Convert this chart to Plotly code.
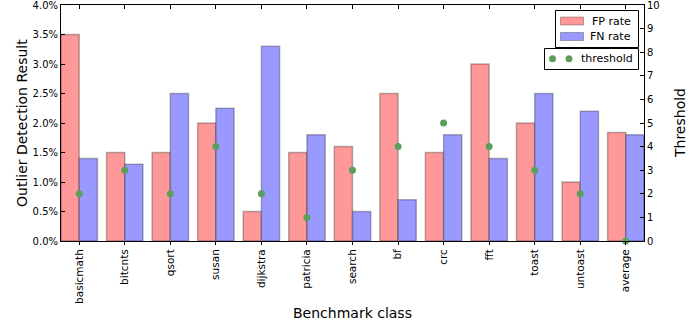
import plotly.graph_objects as go

categories = ["basicmath", "bitcnts", "qsort", "susan", "dijkstra", "patricia",
              "search", "bf", "crc", "fft", "toast", "untoast", "average"]
fp_rate = [0.035, 0.015, 0.015, 0.020, 0.005, 0.015, 0.016, 0.025, 0.015, 0.030, 0.020, 0.010, 0.0184]
fn_rate = [0.014, 0.013, 0.025, 0.0225, 0.033, 0.018, 0.005, 0.007, 0.018, 0.014, 0.025, 0.022, 0.018]
threshold = [2, 3, 2, 4, 2, 1, 3, 4, 5, 4, 3, 2, 0]
pct_ticks = [0, 0.005, 0.01, 0.015, 0.02, 0.025, 0.03, 0.035, 0.04]
pct_labels = ["0.0%", "0.5%", "1.0%", "1.5%", "2.0%", "2.5%", "3.0%", "3.5%", "4.0%"]
thr_ticks = list(range(11))

FP_COLOR = "#ff9999"
FN_COLOR = "#9999ff"
THR_COLOR = "#5c9f5c"
EDGE = "rgba(0,0,0,0.28)"

W, H = 699, 325
ML, MR, MT, MB = 61, 55, 5, 84
PW, PH = W - ML - MR, H - MT - MB


def px(x):
    return (x - ML) / PW


def py(y):
    return (H - MB - y) / PH


xi = list(range(len(categories)))
font = "DejaVu Sans, sans-serif"
edge = dict(color=EDGE, width=1.5)

fig = go.Figure()
fig.add_trace(go.Bar(x=xi, y=fp_rate, name="FP rate", width=0.4, offset=-0.4,
                     marker=dict(color=FP_COLOR, line=edge)))
fig.add_trace(go.Bar(x=xi, y=fn_rate, name="FN rate", width=0.4, offset=0.0,
                     marker=dict(color=FN_COLOR, line=edge)))
fig.add_trace(go.Scatter(x=xi, y=threshold, name="threshold", mode="markers",
                         marker=dict(color=THR_COLOR, size=7), yaxis="y2",
                         cliponaxis=False))
fig.add_trace(go.Scatter(x=[0], y=[0], xaxis="x2", mode="markers",
                         marker=dict(opacity=0), showlegend=False, hoverinfo="skip"))

# manual legend boxes (matplotlib style)
shapes = [
    dict(type="rect", xref="paper", yref="paper", x0=px(555.5), x1=px(638.5),
         y0=py(47.5), y1=py(10.5), fillcolor="white", line=dict(color="black", width=1)),
    dict(type="rect", xref="paper", yref="paper", x0=px(560.5), x1=px(583.5),
         y0=py(25), y1=py(17), fillcolor=FP_COLOR, line=dict(color=EDGE, width=1)),
    dict(type="rect", xref="paper", yref="paper", x0=px(560.5), x1=px(583.5),
         y0=py(40.5), y1=py(32.5), fillcolor=FN_COLOR, line=dict(color=EDGE, width=1)),
    dict(type="rect", xref="paper", yref="paper", x0=px(544.5), x1=px(638.5),
         y0=py(69.5), y1=py(48.5), fillcolor="white", line=dict(color="black", width=1)),
]
for cx in (552.5, 569):
    shapes.append(dict(type="circle", xref="paper", yref="paper",
                       x0=px(cx - 3.5), x1=px(cx + 3.5), y0=py(58.7 + 3.5), y1=py(58.7 - 3.5),
                       fillcolor=THR_COLOR, line=dict(width=0)))

annotations = [
    dict(text="FP rate", x=px(633), y=py(21), xanchor="right", yanchor="middle"),
    dict(text="FN rate", x=px(633), y=py(36.5), xanchor="right", yanchor="middle"),
    dict(text="threshold", x=px(635), y=py(58.5), xanchor="right", yanchor="middle"),
    dict(text="Benchmark class", x=0.5, y=py(313), xanchor="center", yanchor="middle",
         font=dict(size=14)),
    dict(text="Outlier Detection Result", x=px(22), y=0.5, xanchor="center",
         yanchor="middle", textangle=-90, font=dict(size=14)),
    dict(text="Threshold", x=px(680), y=0.5, xanchor="center", yanchor="middle",
         textangle=-90, font=dict(size=14)),
]
for a in annotations:
    a.update(xref="paper", yref="paper", showarrow=False)
    a.setdefault("font", dict(size=11))

fig.update_layout(
    width=W, height=H,
    margin=dict(l=ML, r=MR, t=MT, b=MB, autoexpand=False),
    paper_bgcolor="white", plot_bgcolor="white",
    font=dict(family=font, size=10, color="black"),
    barmode="overlay",
    showlegend=False,
    xaxis=dict(range=[-0.4, 12.4], tickmode="array", tickvals=xi, ticktext=categories,
               tickangle=-90, ticks="outside", ticklen=3, tickcolor="black",
               showline=True, linecolor="black", linewidth=1, mirror=True,
               showgrid=False, zeroline=False, automargin=False,
               ticklabeloverflow="allow", tickfont=dict(size=10.5)),
    xaxis2=dict(range=[-0.4, 12.4], overlaying="x", side="top", anchor="y", tickmode="array",
                tickvals=xi, ticks="inside", ticklen=4, tickcolor="black",
                showline=True, linecolor="black", linewidth=1,
                showticklabels=False, showgrid=False, zeroline=False, automargin=False),
    yaxis=dict(range=[0, 0.04], tickmode="array", tickvals=pct_ticks, ticktext=pct_labels,
               ticks="inside", ticklen=4, tickcolor="black",
               showline=True, linecolor="black", linewidth=1,
               showgrid=False, zeroline=False, automargin=False,
               ticklabeloverflow="allow"),
    yaxis2=dict(range=[0, 10], overlaying="y", side="right", tickmode="array",
                tickvals=thr_ticks, ticks="inside", ticklen=4, tickcolor="black",
                showline=True, linecolor="black", linewidth=1,
                showgrid=False, zeroline=False, automargin=False,
                ticklabeloverflow="allow"),
    shapes=shapes,
    annotations=annotations,
)

fig.write_html("out.html", config={"displayModeBar": False},
               post_script="document.body.style.margin='0';document.body.style.overflow='hidden';")
